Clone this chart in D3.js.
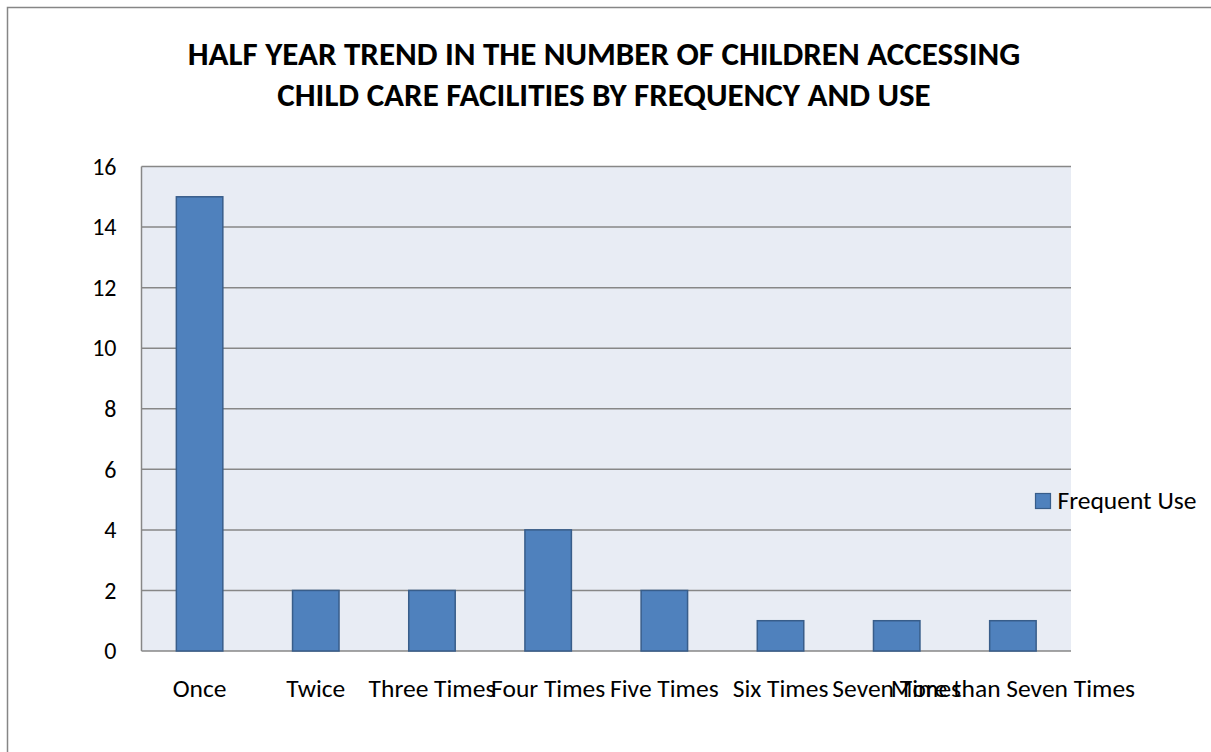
<!DOCTYPE html>
<html>
<head>
<meta charset="utf-8">
<script src="https://cdn.jsdelivr.net/npm/d3@7"></script>
<style>
  html, body { margin: 0; padding: 0; background: #ffffff; }
  svg { display: block; font-family: Carlito, Calibri, Lato, "Open Sans", sans-serif; }
</style>
</head>
<body>
<svg id="chart" width="1211" height="752"></svg>
<script>
// Frequency categories and counts of children
const categories = ["Once", "Twice", "Three Times", "Four Times", "Five Times", "Six Times", "Seven Times", "More than Seven Times"];
const frequentUse = [15, 2, 2, 4, 2, 1, 1, 1];
const yTicks = [0, 2, 4, 6, 8, 10, 12, 14, 16];
const titleLines = ["HALF YEAR TREND IN THE NUMBER OF CHILDREN ACCESSING", "CHILD CARE FACILITIES BY FREQUENCY AND USE"];
const seriesName = "Frequent Use";

const FONT = "Carlito, Calibri, Lato, 'Open Sans', sans-serif";
const svg = d3.select("#chart");
const W = 1211, H = 752;

// outer chart frame
svg.append("rect")
  .attr("x", 7.5).attr("y", 7.5)
  .attr("width", W).attr("height", H)
  .attr("fill", "#ffffff")
  .attr("stroke", "#868686").attr("stroke-width", 1.5);

const plot = { left: 141.5, right: 1071, top: 166.5, bottom: 651 };

const x = d3.scaleBand()
  .domain(categories)
  .range([plot.left, plot.right])
  .paddingInner(0.6).paddingOuter(0.3);

const y = d3.scaleLinear()
  .domain([0, 16])
  .range([plot.bottom, plot.top]);

// plot area background
svg.append("rect")
  .attr("x", plot.left).attr("y", plot.top)
  .attr("width", plot.right - plot.left)
  .attr("height", plot.bottom - plot.top)
  .attr("fill", "#e8ecf4");

// gridlines
svg.append("g")
  .selectAll("line")
  .data(yTicks)
  .join("line")
  .attr("x1", plot.left).attr("x2", plot.right)
  .attr("y1", d => y(d)).attr("y2", d => y(d))
  .attr("stroke", "#878787").attr("stroke-width", 1.5);

// left axis line
svg.append("line")
  .attr("x1", plot.left).attr("x2", plot.left)
  .attr("y1", plot.top).attr("y2", plot.bottom)
  .attr("stroke", "#878787").attr("stroke-width", 1.5);

// y tick labels
const yAxis = d3.axisLeft(y).tickValues(yTicks).tickSize(0).tickPadding(25);
const gy = svg.append("g").attr("transform", `translate(${plot.left},0)`).call(yAxis);
gy.select(".domain").remove();
gy.selectAll("text")
  .attr("font-family", FONT)
  .attr("font-size", 24).attr("fill", "#000");

// bars
svg.append("g")
  .selectAll("rect")
  .data(categories.map((c, i) => ({ c, v: frequentUse[i] })))
  .join("rect")
  .attr("x", d => x(d.c))
  .attr("y", d => y(d.v))
  .attr("width", x.bandwidth())
  .attr("height", d => y(0) - y(d.v))
  .attr("fill", "#4f81bd")
  .attr("stroke", "#385d8a").attr("stroke-width", 1.5);

// category labels
const xAxis = d3.axisBottom(x).tickSize(0).tickPadding(28);
const gx = svg.append("g").attr("transform", `translate(0,${plot.bottom})`).call(xAxis);
gx.select(".domain").remove();
gx.selectAll("text")
  .attr("font-family", FONT)
  .attr("font-size", 25.5).attr("fill", "#000");

// title
svg.append("g")
  .selectAll("text")
  .data(titleLines)
  .join("text")
  .attr("x", 604)
  .attr("y", (d, i) => 65 + i * 41)
  .attr("text-anchor", "middle")
  .attr("font-family", FONT)
  .attr("font-size", 33).attr("font-weight", "bold")
  .attr("fill", "#000")
  .text(d => d);

// legend
const lg = svg.append("g").attr("transform", "translate(1035.5,493.5)");
lg.append("rect")
  .attr("width", 15).attr("height", 15)
  .attr("fill", "#4f81bd").attr("stroke", "#385d8a").attr("stroke-width", 1.2);
lg.append("text")
  .attr("x", 22).attr("y", 15)
  .attr("font-family", FONT)
  .attr("font-size", 25.5).attr("fill", "#000")
  .text(seriesName);
</script>
</body>
</html>
